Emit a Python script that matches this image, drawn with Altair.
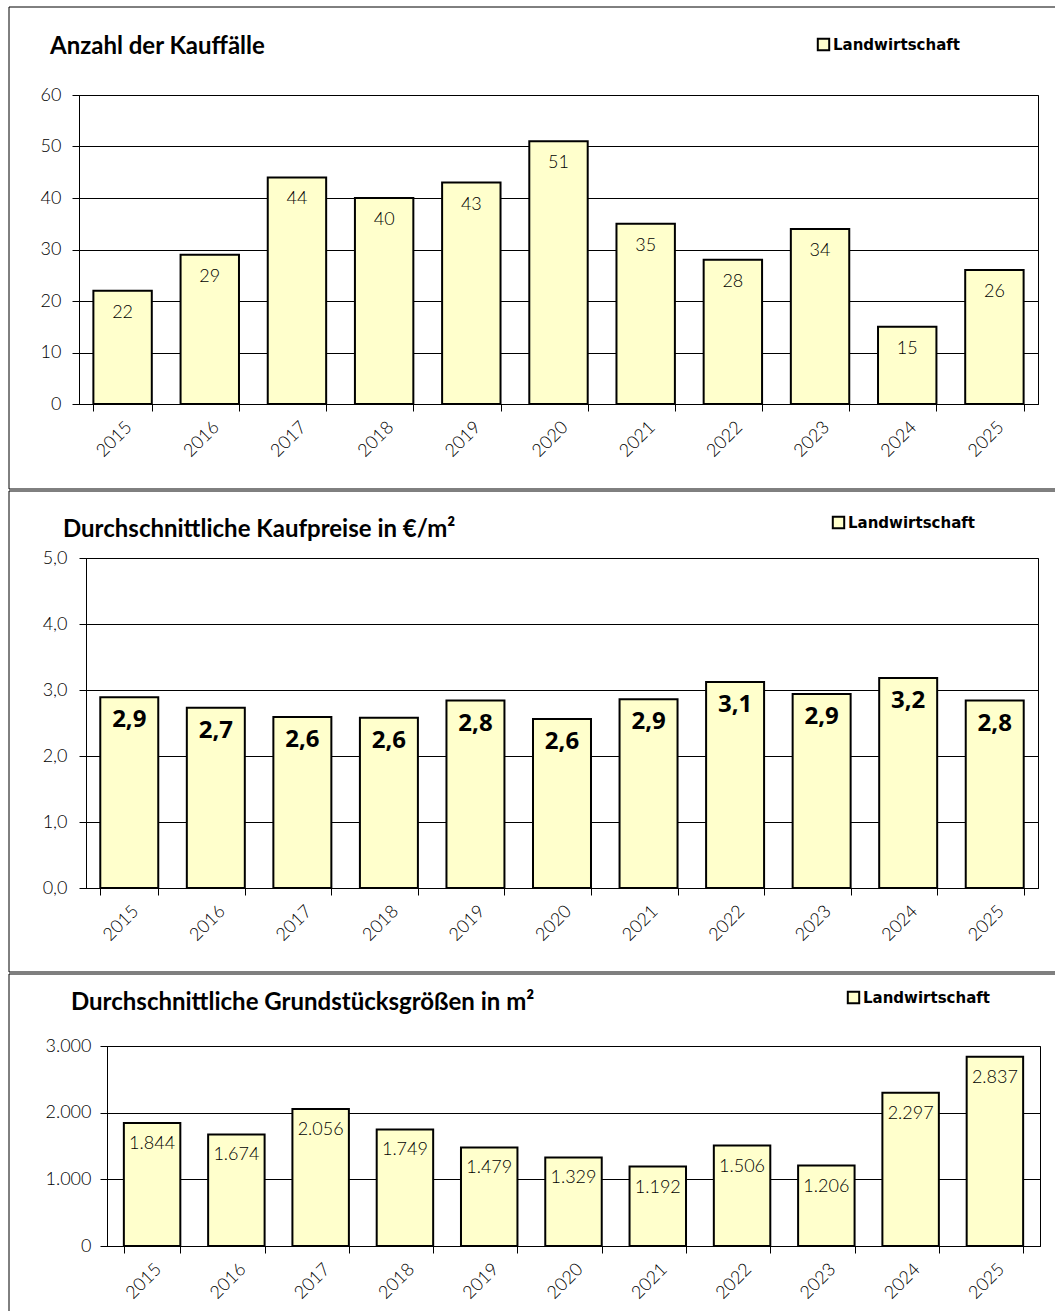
import altair as alt
import pandas as pd

years = [str(y) for y in range(2015, 2026)]
kauffaelle = [22, 29, 44, 40, 43, 51, 35, 28, 34, 15, 26]
kaufpreise = [2.89, 2.73, 2.59, 2.58, 2.84, 2.56, 2.86, 3.12, 2.94, 3.18, 2.84]
groessen = [1844, 1674, 2056, 1749, 1479, 1329, 1192, 1506, 1206, 2297, 2837]
series_name = "Landwirtschaft"
titles = ["Anzahl der Kauffälle",
          "Durchschnittliche Kaufpreise in €/m²",
          "Durchschnittliche Grundstücksgrößen in m²"]
y_ticks = [[0, 10, 20, 30, 40, 50, 60], [0, 1, 2, 3, 4, 5], [0, 1000, 2000, 3000]]
y_formats = ["d", ".1f", ",d"]

LIGHT = "Lato"
FILL = "#FFFFCC"
RIGHT = 1055


def panel(values, title, ticks, yfmt, width, height, left, panel_top, panel_bottom, bottom_rule,
          lab_font, lab_size, lab_weight, lab_dy, title_xy, legend_xy, ypad, outer):
    df = pd.DataFrame({"Jahr": years, "Wert": values, "Serie": series_name})
    one = pd.DataFrame({"t": [title]})
    x = alt.X("Jahr:N", sort=years, title=None,
              scale=alt.Scale(paddingInner=0.33, paddingOuter=outer),
              axis=alt.Axis(labelAngle=315, tickBand="extent", tickSize=7, tickColor="black",
                            domainColor="black", labelFont=LIGHT, labelFontSize=18,
                            labelFontWeight=300, labelColor="black", labelPadding=7, grid=False))
    y = alt.Y("Wert:Q", title=None,
              scale=alt.Scale(domain=[ticks[0], ticks[-1]], nice=False, zero=True),
              axis=alt.Axis(values=ticks, format=yfmt, tickSize=7, tickColor="black",
                            domainColor="black", gridColor="black", gridOpacity=1, gridWidth=1,
                            labelFont=LIGHT, labelFontSize=18, labelFontWeight=300,
                            labelColor="black", labelPadding=ypad))
    bars = alt.Chart(df).mark_bar(stroke="black", strokeWidth=2).encode(
        x=x, y=y,
        color=alt.Color("Serie:N", scale=alt.Scale(range=[FILL]),
                        legend=alt.Legend(orient="none", legendX=legend_xy[0], legendY=legend_xy[1],
                                          title=None, symbolType="square", symbolSize=130,
                                          symbolStrokeColor="black", symbolStrokeWidth=2,
                                          labelFont="DejaVu Sans", labelFontWeight="bold",
                                          labelFontSize=15, labelColor="black", labelOffset=2,
                                          padding=0)))
    labels = alt.Chart(df).mark_text(baseline="middle", dy=lab_dy, font=lab_font,
                                     fontSize=lab_size, fontWeight=lab_weight, color="black").encode(
        x=alt.X("Jahr:N", sort=years), y="Wert:Q", text=alt.Text("Wert:Q", format=yfmt))
    ttl = alt.Chart(one).mark_text(align="left", baseline="alphabetic", font="Lato",
                                   fontWeight="bold", fontSize=24, color="black").encode(
        text="t:N", x=alt.value(title_xy[0]), y=alt.value(title_xy[1]))
    bx = 9 - left
    rules = [
        alt.Chart(one).mark_rule(color="black", strokeWidth=1).encode(
            x=alt.value(bx), x2=alt.value(RIGHT - left), y=alt.value(panel_top)),
        alt.Chart(one).mark_rule(color="black", strokeWidth=1).encode(
            x=alt.value(bx), y=alt.value(panel_top), y2=alt.value(panel_bottom)),
    ]
    if bottom_rule:
        rules.append(alt.Chart(one).mark_rule(color="black", strokeWidth=1).encode(
            x=alt.value(bx), x2=alt.value(RIGHT - left), y=alt.value(panel_bottom)))
    layered = alt.layer(bars, labels, ttl, *rules).properties(
        width=width, height=height, view=alt.ViewBackground(stroke="black", strokeWidth=1))
    spacer = alt.Chart(one).mark_point(opacity=0).encode(
        x=alt.value(0), y=alt.value(0)).properties(
        width=1, height=1, view=alt.ViewBackground(stroke="transparent"))
    return alt.hconcat(spacer, layered, spacing=0)


p1 = panel(kauffaelle, titles[0], y_ticks[0], y_formats[0], 959, 309, 79, 8 - 96, 490 - 96, True,
           LIGHT, 18, 300, 22, (-29, -41), (812, -58), 11, 0.165)
p2 = panel(kaufpreise, titles[1], y_ticks[1], y_formats[1], 952, 330, 86, 491 - 558, 972 - 558, True,
           "Open Sans", 24, "bold", 23, (-23, -21), (827, -43), 12, 0.165)
p3 = panel(groessen, titles[2], y_ticks[2], y_formats[2], 933, 200, 107, 973 - 1045, 1310 - 1045, False,
           LIGHT, 18, 300, 21, (-36, -36), (842, -56), 9, 0.2)

chart = alt.vconcat(p1, p2, p3, spacing=0).resolve_scale(
    color="independent").resolve_legend(color="independent").properties(
    padding={"left": 0, "top": 6, "right": 0, "bottom": 0}
).configure(
    locale={"number": {"decimal": ",", "thousands": ".", "grouping": [3], "currency": ["", " €"]}}
)

chart.save("out.html", embed_options={"renderer": "svg", "actions": False})
